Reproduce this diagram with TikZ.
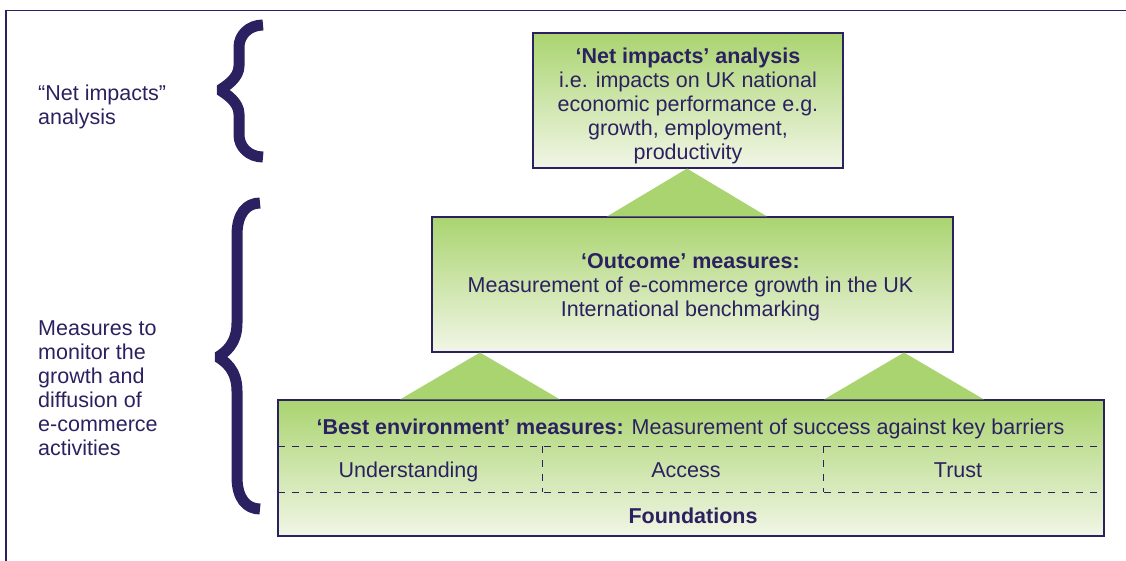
\documentclass[tikz,border=0pt]{standalone}
\usepackage{fontspec}
\setmainfont{Liberation Sans}
\usepackage{xcolor}
\usepackage{tikz}
\usetikzlibrary{positioning, calc}

\definecolor{navy}{RGB}{44,33,96}
\definecolor{leafgreen}{RGB}{170,212,112}
\definecolor{palegreen}{RGB}{241,246,230}

% curly brace: tip x, spine x, point x, top y, middle y, bottom y, end bend, middle bend
\newcommand{\bigbrace}[8]{%
  \draw[bracestroke] (#1,#4) .. controls ({#2+10},#4) and (#2,{#4+10}) .. (#2,{#4+#7})
    -- (#2,{#5-#8}) .. controls (#2,{#5-12}) and ({#3+6},{#5-4}) .. (#3,#5)
    .. controls ({#3+6},{#5+4}) and (#2,{#5+12}) .. (#2,{#5+#8})
    -- (#2,{#6-#7}) .. controls (#2,{#6-10}) and ({#2+10},#6) .. (#1,#6);}

\begin{document}
\begin{tikzpicture}[x=1pt, y=-1pt,
    tierbox/.style={rectangle, draw=navy, line width=1.1pt, top color=leafgreen, bottom color=palegreen, inner sep=0pt},
    tiertext/.style={text=navy, inner sep=0pt, align=center, font=\fontsize{21.5}{24}\selectfont},
    rowtext/.style={text=navy, inner sep=0pt, anchor=base, font=\fontsize{21.5}{24}\selectfont},
    sidelabel/.style={text=navy, inner sep=0pt, align=left, anchor=west, font=\fontsize{21.5}{24}\selectfont},
    tri/.style={fill=leafgreen},
    bracestroke/.style={draw=navy, line width=11pt, line join=bevel},
    divider/.style={draw=navy, line width=0.9pt, dash pattern=on 7pt off 7pt},
    frame/.style={draw=navy, line width=1.8pt}
]
\useasboundingbox (0,0) rectangle (1126,561);

% Frame
\draw[frame] (6,561) -- (6,10.5) -- (1126,10.5);

% Side labels and braces
\node[sidelabel] (nettag) at (38,107) {“Net impacts”\\analysis};
\node[sidelabel] (measurestag) at (38,388.5) {Measures to\\monitor the\\growth and\\diffusion of\\e-commerce\\activities};
\bigbrace{263}{239}{220}{25}{90}{157}{22}{24}
\bigbrace{260}{237}{218}{203}{357}{509}{32}{34}

% Three tiers
\node[tierbox, minimum width=310pt, minimum height=135pt] (netbox) at (688,100.5) {};
\node[tierbox, minimum width=521pt, minimum height=135pt] (outcomebox) at (692.5,284.5) {};
\node[tierbox, minimum width=826pt, minimum height=136pt] (envbox) at (691,468) {};

\node[tiertext] (nettext) at ($(netbox.center)+(0,5)$)
  {{\bfseries ‘Net impacts’ analysis}\\i.e. impacts on UK national\\economic performance e.g.\\growth, employment,\\productivity};
\node[tiertext] (outcometext) at ($(outcomebox.center)+(-2,3)$)
  {{\bfseries ‘Outcome’ measures:}\\Measurement of e-commerce growth in the UK\\International benchmarking};

% Rows of the bottom tier
\node[rowtext] (envtitle) at (690.5,434) {{\bfseries ‘Best environment’ measures:} Measurement of success against key barriers};
\node[rowtext] (understanding) at (408.5,477) {Understanding};
\node[rowtext] (access) at (686,477) {Access};
\node[rowtext] (trust) at (958,477) {Trust};
\node[rowtext, font=\fontsize{21.5}{24}\selectfont\bfseries] (foundations) at (693,523) {Foundations};

\draw[divider] (278,446) -- (1103,446);
\draw[divider] (278,492) -- (1103,492);
\draw[divider] (542,446) -- (542,492);
\draw[divider] (823,446) -- (823,492);

% Connecting triangles
\fill[tri] (netbox.south -| 687,0) -- ($(687,0 |- outcomebox.north)+(80,0)$) -- ($(687,0 |- outcomebox.north)+(-80,0)$) -- cycle;
\fill[tri] (480,0 |- outcomebox.south) -- ($(480,0 |- envbox.north)+(80,0)$) -- ($(480,0 |- envbox.north)+(-80,0)$) -- cycle;
\fill[tri] (904,0 |- outcomebox.south) -- ($(904,0 |- envbox.north)+(80,0)$) -- ($(904,0 |- envbox.north)+(-80,0)$) -- cycle;

\end{tikzpicture}
\end{document}
